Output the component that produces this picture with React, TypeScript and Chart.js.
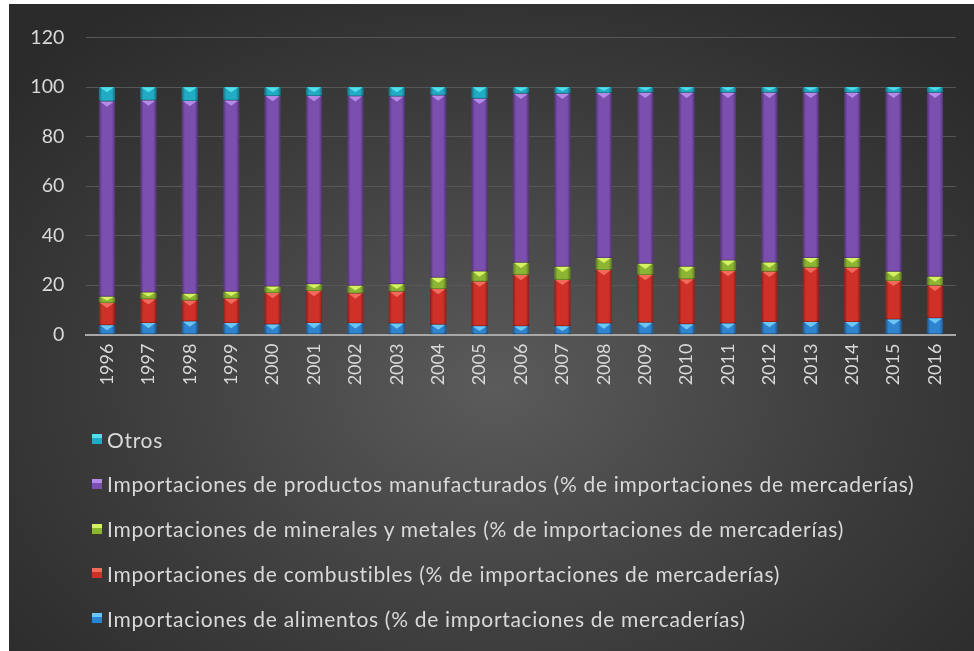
import React, { useEffect, useRef } from "react";
import { Chart, registerables } from "chart.js";

Chart.register(...registerables);

const years = ["1996","1997","1998","1999","2000","2001","2002","2003","2004","2005","2006","2007","2008","2009","2010","2011","2012","2013","2014","2015","2016"];

const alimentos = [3.8, 4.7, 5.3, 4.7, 4.1, 4.7, 4.6, 4.5, 4.0, 3.4, 3.4, 3.4, 4.5, 4.8, 4.2, 4.5, 5.1, 5.1, 5.1, 6.1, 6.6];
const combustibles = [9.0, 9.6, 8.4, 9.8, 12.7, 12.9, 12.0, 12.8, 14.4, 18.0, 20.7, 18.7, 21.6, 19.3, 18.2, 21.2, 20.3, 21.9, 21.9, 15.6, 13.1];
const minerales = [2.5, 2.7, 2.8, 2.8, 2.6, 2.8, 3.1, 3.1, 4.6, 4.1, 4.9, 5.3, 4.9, 4.5, 5.0, 4.2, 3.7, 4.0, 4.0, 3.7, 3.7];
const manufacturas = [78.9, 77.6, 77.9, 77.3, 77.0, 76.0, 76.6, 75.8, 73.6, 69.8, 68.3, 69.9, 66.6, 69.1, 70.3, 67.8, 68.6, 66.7, 66.7, 72.3, 74.3];
const otros = [5.8, 5.4, 5.6, 5.4, 3.6, 3.6, 3.7, 3.8, 3.4, 4.7, 2.7, 2.7, 2.4, 2.3, 2.3, 2.3, 2.3, 2.3, 2.3, 2.3, 2.3];

const yTicks = [0, 20, 40, 60, 80, 100, 120];

const seriesNames = [
  "Importaciones de alimentos (% de importaciones de mercaderías)",
  "Importaciones de combustibles (% de importaciones de mercaderías)",
  "Importaciones de minerales y metales (% de importaciones de mercaderías)",
  "Importaciones de productos manufacturados (% de importaciones de mercaderías)",
  "Otros",
];
const mainColors = ["#2f84d0", "#cf3129", "#8cb534", "#7b4fae", "#22abc4"];
const lightColors = ["#6cc6f4", "#f26a5c", "#d6f262", "#b58ae6", "#4fe0ec"];

const W = 965;
const H = 647;

const bevelPlugin = {
  id: "bevel",
  afterDatasetsDraw(chart: any) {
    const ctx = chart.ctx;
    chart.data.datasets.forEach((ds: any, di: number) => {
      const meta = chart.getDatasetMeta(di);
      meta.data.forEach((el: any) => {
        const p = el.getProps(["x", "y", "base", "width"], true);
        const left = p.x - p.width / 2;
        const top = Math.min(p.y, p.base);
        const h = Math.abs(p.base - p.y);
        const w = p.width;
        if (h <= 0) return;
        ctx.save();
        const g = ctx.createLinearGradient(left, 0, left + w, 0);
        g.addColorStop(0, "rgba(0,0,0,0.35)");
        g.addColorStop(0.2, "rgba(0,0,0,0)");
        g.addColorStop(0.8, "rgba(0,0,0,0)");
        g.addColorStop(1, "rgba(0,0,0,0.35)");
        ctx.fillStyle = g;
        ctx.fillRect(left, top, w, h);
        const th = Math.min(h * 0.6, w * 0.32);
        ctx.beginPath();
        ctx.moveTo(left + 1, top);
        ctx.lineTo(left + w - 1, top);
        ctx.lineTo(left + w / 2, top + th);
        ctx.closePath();
        ctx.fillStyle = lightColors[di];
        ctx.fill();
        ctx.fillStyle = "rgba(0,0,0,0.25)";
        ctx.fillRect(left, top + h - 1, w, 1);
        ctx.restore();
      });
    });
  },
};

export default function App() {
  const ref = useRef<HTMLCanvasElement>(null);
  useEffect(() => {
    const seriesData = [alimentos, combustibles, minerales, manufacturas, otros];
    const chart = new Chart(ref.current as HTMLCanvasElement, {
      type: "bar",
      data: {
        labels: years,
        datasets: seriesData.map((d, i) => ({
          label: seriesNames[i],
          data: d,
          backgroundColor: mainColors[i],
          borderWidth: 0,
          categoryPercentage: 1,
          barPercentage: 0.39,
        })),
      },
      options: {
        animation: false,
        responsive: false,
        layout: { padding: { top: 29, left: 0, right: 18.3, bottom: 256.4 } },
        plugins: { legend: { display: false }, tooltip: { enabled: false } },
        scales: {
          x: {
            stacked: true,
            grid: { display: false, drawTicks: false },
            border: { display: true, color: "#a8a8a8", width: 2 },
            ticks: {
              color: "#d9d9d9",
              font: { family: "Lato", size: 18 },
              minRotation: 90,
              maxRotation: 90,
              padding: 9,
            },
            afterFit: (s: any) => { s.height = 60; },
          },
          y: {
            stacked: true,
            min: 0,
            max: 120,
            afterBuildTicks: (s: any) => { s.ticks = yTicks.map((v) => ({ value: v })); },
            grid: {
              drawTicks: false,
              color: (c: any) => (c.tick && c.tick.value === 0 ? "rgba(0,0,0,0)" : "#575757"),
              lineWidth: 1,
            },
            border: { display: false },
            ticks: {
              color: "#d9d9d9",
              font: { family: "Lato", size: 19.5 },
              padding: 22,
            },
            afterFit: (s: any) => { s.width = 77.3; },
          },
        },
      },
      plugins: [bevelPlugin],
    });
    return () => chart.destroy();
  }, []);

  const legendOrder = [4, 3, 2, 1, 0];
  return (
    <div
      style={{
        position: "fixed",
        left: 9,
        top: 4,
        width: W + 10,
        height: H + 10,
        background: "radial-gradient(ellipse 65% 70% at 50% 58%, #5b5b5b 0%, #3c3c3c 60%, #2b2b2b 100%)",
        overflow: "hidden",
      }}
    >
      <canvas ref={ref} width={W} height={H} style={{ position: "absolute", left: 0, top: 0 }} />
      {legendOrder.map((si, k) => (
        <div
          key={si}
          style={{
            position: "absolute",
            left: 83,
            top: 435 + 44.8 * k - 14,
            height: 28,
            display: "flex",
            alignItems: "center",
            fontFamily: "Lato",
            fontSize: 21,
            letterSpacing: "0.7px",
            color: "#d9d9d9",
            whiteSpace: "nowrap",
          }}
        >
          <span
            style={{
              display: "inline-block",
              width: 10,
              height: 10,
              marginRight: 5,
              background: `linear-gradient(180deg, ${lightColors[si]} 0%, ${lightColors[si]} 35%, ${mainColors[si]} 45%, ${mainColors[si]} 100%)`,
            }}
          />
          <span>{seriesNames[si]}</span>
        </div>
      ))}
    </div>
  );
}
